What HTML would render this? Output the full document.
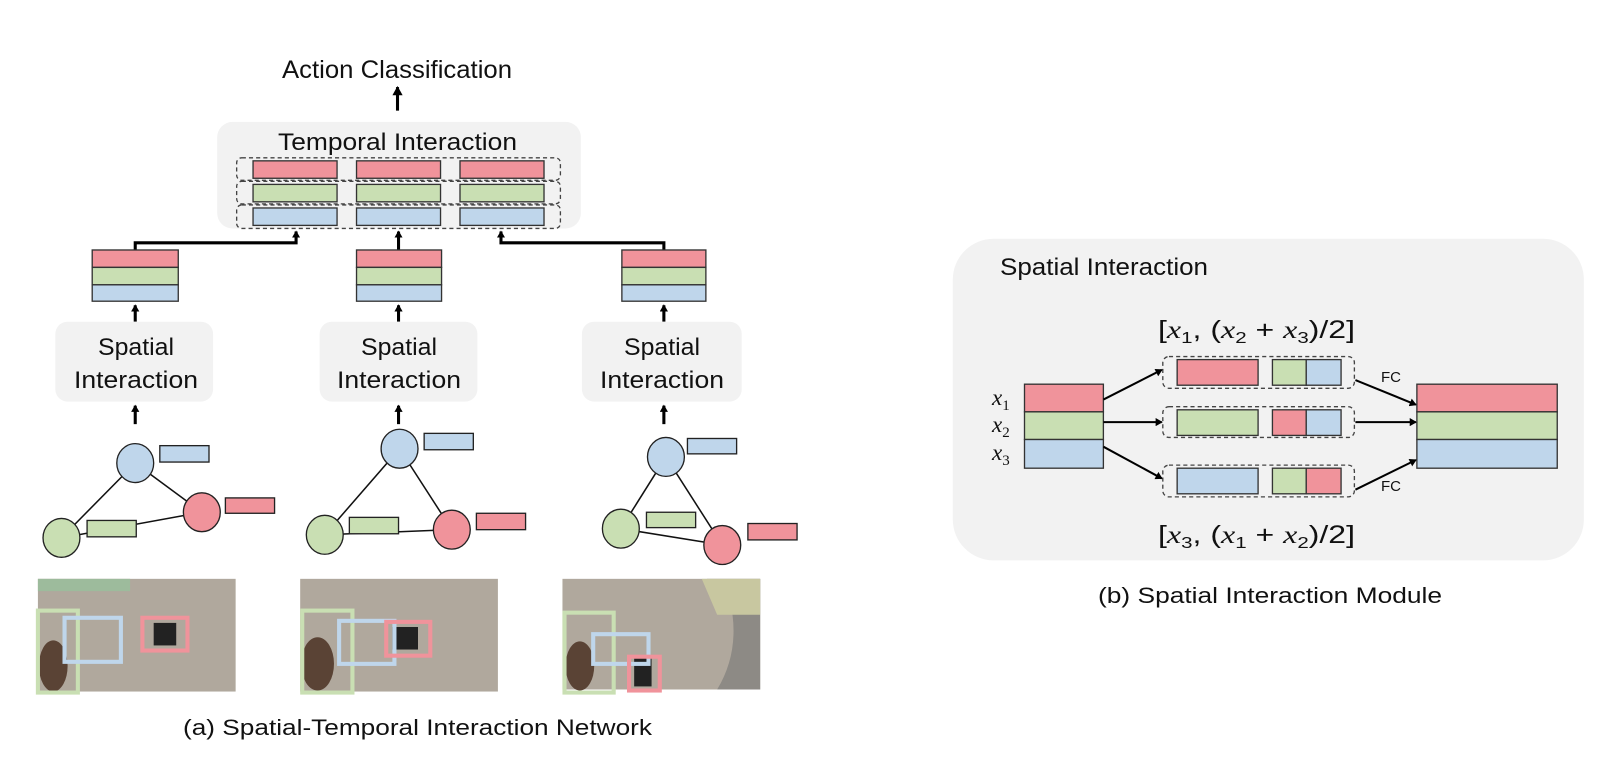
<!DOCTYPE html>
<html><head><meta charset="utf-8"><style>
body{margin:0;background:#fff;}
svg text{font-family:"Liberation Sans",sans-serif;fill:#111;}
.m{font-family:"Liberation Serif",serif;font-style:italic;}
</style></head><body>
<svg width="1606" height="754" viewBox="0 0 1606 754" xmlns="http://www.w3.org/2000/svg">
<defs>
<marker id="ah" markerWidth="8" markerHeight="8" refX="6" refY="4" orient="auto" markerUnits="userSpaceOnUse"><path d="M0,0 L7,4 L0,8 z" fill="#000"/></marker>
<marker id="ah2" markerWidth="10" markerHeight="10" refX="8" refY="5" orient="auto" markerUnits="userSpaceOnUse"><path d="M0,0 L9,5 L0,10 z" fill="#000"/></marker>
</defs>
<g transform="scale(1.0245)">
<g stroke="#333" stroke-width="1.3">
<line x1="388" y1="108" x2="388" y2="85" stroke="#000" stroke-width="3" marker-end="url(#ah2)"/>
<rect x="212" y="119" width="355" height="104" rx="15" fill="#f2f2f2" stroke="none"/>
<g fill="none" stroke="#444" stroke-dasharray="4,3">
<rect x="231" y="154" width="316" height="22" rx="5"/>
<rect x="231" y="177" width="316" height="22" rx="5"/>
<rect x="231" y="200" width="316" height="23" rx="5"/>
</g>
<rect x="247" y="157" width="82" height="17" fill="#f0939b"/><rect x="348" y="157" width="82" height="17" fill="#f0939b"/><rect x="449" y="157" width="82" height="17" fill="#f0939b"/>
<rect x="247" y="180" width="82" height="17" fill="#c9dfb3"/><rect x="348" y="180" width="82" height="17" fill="#c9dfb3"/><rect x="449" y="180" width="82" height="17" fill="#c9dfb3"/>
<rect x="247" y="203" width="82" height="17" fill="#bfd6eb"/><rect x="348" y="203" width="82" height="17" fill="#bfd6eb"/><rect x="449" y="203" width="82" height="17" fill="#bfd6eb"/>
<g fill="none" stroke="#000" stroke-width="3">
<polyline points="132,244 132,237 289,237 289,226" marker-end="url(#ah)"/>
<polyline points="389,244 389,226" marker-end="url(#ah)"/>
<polyline points="648,244 648,237 489,237 489,226" marker-end="url(#ah)"/>
</g>
<rect x="90" y="244" width="84" height="17" fill="#f0939b"/><rect x="90" y="261" width="84" height="17" fill="#c9dfb3"/><rect x="90" y="278" width="84" height="16" fill="#bfd6eb"/>
<rect x="348" y="244" width="83" height="17" fill="#f0939b"/><rect x="348" y="261" width="83" height="17" fill="#c9dfb3"/><rect x="348" y="278" width="83" height="16" fill="#bfd6eb"/>
<rect x="607" y="244" width="82" height="17" fill="#f0939b"/><rect x="607" y="261" width="82" height="17" fill="#c9dfb3"/><rect x="607" y="278" width="82" height="16" fill="#bfd6eb"/>
<g fill="none" stroke="#000" stroke-width="3">
<line x1="132" y1="314" x2="132" y2="298" marker-end="url(#ah)"/>
<line x1="389" y1="314" x2="389" y2="298" marker-end="url(#ah)"/>
<line x1="648" y1="314" x2="648" y2="298" marker-end="url(#ah)"/>
<line x1="132" y1="414" x2="132" y2="396" marker-end="url(#ah)"/>
<line x1="389" y1="414" x2="389" y2="396" marker-end="url(#ah)"/>
<line x1="648" y1="414" x2="648" y2="396" marker-end="url(#ah)"/>
</g>
<g stroke="none">
<rect x="54" y="314" width="154" height="78" rx="12" fill="#f2f2f2"/>
<rect x="312" y="314" width="154" height="78" rx="12" fill="#f2f2f2"/>
<rect x="568" y="314" width="156" height="78" rx="12" fill="#f2f2f2"/>
</g>
<g stroke="#111" stroke-width="1.5">
<line x1="60" y1="525" x2="132" y2="452"/><line x1="132" y1="452" x2="197" y2="500"/><line x1="60" y1="525" x2="197" y2="500"/>
<line x1="317" y1="522" x2="390" y2="438"/><line x1="390" y1="438" x2="441" y2="517"/><line x1="317" y1="522" x2="441" y2="517"/>
<line x1="606" y1="516" x2="650" y2="446"/><line x1="650" y1="446" x2="705" y2="532"/><line x1="606" y1="516" x2="705" y2="532"/>
</g>
<g stroke="#222">
<ellipse cx="132" cy="452" rx="18" ry="19" fill="#bfd6eb"/><ellipse cx="197" cy="500" rx="18" ry="19" fill="#f0939b"/><ellipse cx="60" cy="525" rx="18" ry="19" fill="#c9dfb3"/>
<rect x="156" y="435" width="48" height="16" fill="#bfd6eb"/><rect x="220" y="486" width="48" height="15" fill="#f0939b"/><rect x="85" y="508" width="48" height="16" fill="#c9dfb3"/>
<ellipse cx="390" cy="438" rx="18" ry="19" fill="#bfd6eb"/><ellipse cx="441" cy="517" rx="18" ry="19" fill="#f0939b"/><ellipse cx="317" cy="522" rx="18" ry="19" fill="#c9dfb3"/>
<rect x="414" y="423" width="48" height="16" fill="#bfd6eb"/><rect x="465" y="501" width="48" height="16" fill="#f0939b"/><rect x="341" y="505" width="48" height="16" fill="#c9dfb3"/>
<ellipse cx="650" cy="446" rx="18" ry="19" fill="#bfd6eb"/><ellipse cx="705" cy="532" rx="18" ry="19" fill="#f0939b"/><ellipse cx="606" cy="516" rx="18" ry="19" fill="#c9dfb3"/>
<rect x="671" y="428" width="48" height="15" fill="#bfd6eb"/><rect x="730" y="511" width="48" height="16" fill="#f0939b"/><rect x="631" y="500" width="48" height="15" fill="#c9dfb3"/>
</g>
<g stroke="none">
<rect x="37" y="565" width="193" height="110" fill="#b0a89d"/>
<rect x="37" y="565" width="90" height="12" fill="#9dbb9c"/>
<rect x="293" y="565" width="193" height="110" fill="#b0a89d"/>
<rect x="549" y="565" width="193" height="108" fill="#b0a89d"/>
<path d="M690,565 L742,565 L742,673 L700,673 Q720,640 715,600 Q700,580 690,565z" fill="#8d8a85"/>
<path d="M685,565 L742,565 L742,600 L700,600z" fill="#c8c7a0"/>
<ellipse cx="52" cy="650" rx="14" ry="25" fill="#5a4335"/>
<ellipse cx="310" cy="648" rx="16" ry="26" fill="#5a4335"/>
<ellipse cx="566" cy="650" rx="14" ry="24" fill="#5a4335"/>
<rect x="150" y="608" width="22" height="22" fill="#222"/>
<rect x="383" y="612" width="25" height="22" fill="#222"/>
<rect x="619" y="642" width="17" height="28" fill="#222"/>
</g>
<g fill="none" stroke-width="4">
<rect x="37" y="596" width="39" height="80" stroke="#c9dfb3"/><rect x="63" y="603" width="55" height="43" stroke="#bfd6eb"/><rect x="139" y="603" width="44" height="32" stroke="#f0939b"/>
<rect x="295" y="596" width="49" height="80" stroke="#c9dfb3"/><rect x="331" y="606" width="54" height="42" stroke="#bfd6eb"/><rect x="377" y="607" width="43" height="33" stroke="#f0939b"/>
<rect x="551" y="598" width="48" height="78" stroke="#c9dfb3"/><rect x="579" y="619" width="54" height="29" stroke="#bfd6eb"/><rect x="614" y="641" width="30" height="33" stroke="#f0939b"/>
</g>
<rect x="930" y="233" width="616" height="314" rx="40" fill="#f2f2f2" stroke="none"/>
<rect x="1000" y="375" width="77" height="27" fill="#f0939b"/><rect x="1000" y="402" width="77" height="27" fill="#c9dfb3"/><rect x="1000" y="429" width="77" height="28" fill="#bfd6eb"/>
<rect x="1383" y="375" width="137" height="27" fill="#f0939b"/><rect x="1383" y="402" width="137" height="27" fill="#c9dfb3"/><rect x="1383" y="429" width="137" height="28" fill="#bfd6eb"/>
<g fill="none" stroke="#444" stroke-dasharray="4,3">
<rect x="1135" y="348" width="187" height="31" rx="6"/>
<rect x="1135" y="397" width="187" height="30" rx="6"/>
<rect x="1135" y="454" width="187" height="31" rx="6"/>
</g>
<rect x="1149" y="351" width="79" height="25" fill="#f0939b"/><rect x="1242" y="351" width="33" height="25" fill="#c9dfb3"/><rect x="1275" y="351" width="34" height="25" fill="#bfd6eb"/>
<rect x="1149" y="400" width="79" height="25" fill="#c9dfb3"/><rect x="1242" y="400" width="33" height="25" fill="#f0939b"/><rect x="1275" y="400" width="34" height="25" fill="#bfd6eb"/>
<rect x="1149" y="457" width="79" height="25" fill="#bfd6eb"/><rect x="1242" y="457" width="33" height="25" fill="#c9dfb3"/><rect x="1275" y="457" width="34" height="25" fill="#f0939b"/>
<g stroke="#000" stroke-width="2">
<line x1="1077" y1="390" x2="1134" y2="361" marker-end="url(#ah)"/>
<line x1="1077" y1="412" x2="1134" y2="412" marker-end="url(#ah)"/>
<line x1="1077" y1="436" x2="1134" y2="467" marker-end="url(#ah)"/>
<line x1="1323" y1="371" x2="1382" y2="395" marker-end="url(#ah)"/>
<line x1="1323" y1="412" x2="1382" y2="412" marker-end="url(#ah)"/>
<line x1="1323" y1="478" x2="1382" y2="449" marker-end="url(#ah)"/>
</g>
</g>
</g>
<g>
<text x="282" y="78" font-size="25" textLength="230" lengthAdjust="spacingAndGlyphs">Action Classification</text>
<text x="278" y="150" font-size="24" textLength="239" lengthAdjust="spacingAndGlyphs">Temporal Interaction</text>
<text x="98" y="355" font-size="24" textLength="76" lengthAdjust="spacingAndGlyphs">Spatial</text>
<text x="74" y="388" font-size="24" textLength="124" lengthAdjust="spacingAndGlyphs">Interaction</text>
<text x="361" y="355" font-size="24" textLength="76" lengthAdjust="spacingAndGlyphs">Spatial</text>
<text x="337" y="388" font-size="24" textLength="124" lengthAdjust="spacingAndGlyphs">Interaction</text>
<text x="624" y="355" font-size="24" textLength="76" lengthAdjust="spacingAndGlyphs">Spatial</text>
<text x="600" y="388" font-size="24" textLength="124" lengthAdjust="spacingAndGlyphs">Interaction</text>
<text x="183" y="735" font-size="22" textLength="469" lengthAdjust="spacingAndGlyphs">(a) Spatial-Temporal Interaction Network</text>
<text x="1000" y="275" font-size="24" textLength="208" lengthAdjust="spacingAndGlyphs">Spatial Interaction</text>
<text x="1098" y="603" font-size="22" textLength="344" lengthAdjust="spacingAndGlyphs">(b) Spatial Interaction Module</text>
<text x="1381" y="382" font-size="15">FC</text>
<text x="1381" y="491" font-size="15">FC</text>
<text x="992" y="405" font-size="23" class="m">x<tspan font-size="15" dy="5" font-style="normal">1</tspan></text>
<text x="992" y="432" font-size="23" class="m">x<tspan font-size="15" dy="5" font-style="normal">2</tspan></text>
<text x="992" y="460" font-size="23" class="m">x<tspan font-size="15" dy="5" font-style="normal">3</tspan></text>
<text x="1158" y="338" font-size="25" textLength="197" lengthAdjust="spacingAndGlyphs" font-family="Liberation Serif,serif">[<tspan class="m">x</tspan><tspan font-size="16" dy="5">1</tspan><tspan dy="-5">, (</tspan><tspan class="m">x</tspan><tspan font-size="16" dy="5">2</tspan><tspan dy="-5"> + </tspan><tspan class="m">x</tspan><tspan font-size="16" dy="5">3</tspan><tspan dy="-5">)/2]</tspan></text>
<text x="1158" y="543" font-size="25" textLength="197" lengthAdjust="spacingAndGlyphs" font-family="Liberation Serif,serif">[<tspan class="m">x</tspan><tspan font-size="16" dy="5">3</tspan><tspan dy="-5">, (</tspan><tspan class="m">x</tspan><tspan font-size="16" dy="5">1</tspan><tspan dy="-5"> + </tspan><tspan class="m">x</tspan><tspan font-size="16" dy="5">2</tspan><tspan dy="-5">)/2]</tspan></text>
</g>
</svg>
</body></html>
